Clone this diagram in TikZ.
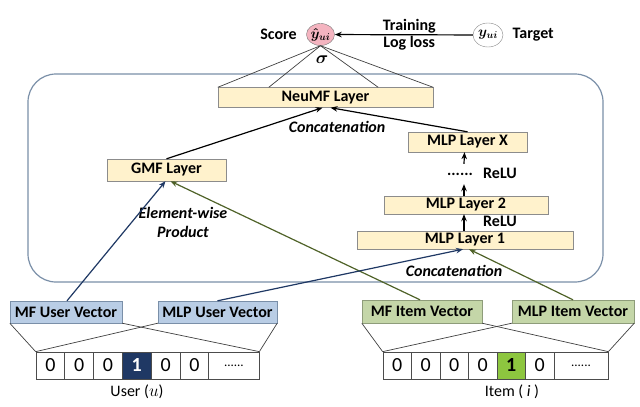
\documentclass[tikz,border=0pt]{standalone}
\usepackage{fontspec}
\setmainfont{Carlito}
\usetikzlibrary{positioning,arrows.meta,shapes.geometric}
\definecolor{layerfill}{HTML}{FFF2CC}
\definecolor{userfill}{HTML}{B9CDE5}
\definecolor{itemfill}{HTML}{C4D6A8}
\definecolor{navy}{HTML}{1F3864}
\definecolor{olive}{HTML}{4F6228}
\definecolor{frameblue}{HTML}{7A8FA8}
\definecolor{itemframe}{HTML}{8E9C7A}
\definecolor{scorepink}{HTML}{F4B4C0}
\definecolor{onegreen}{HTML}{8DC63F}
\newcommand\lbl{\fontsize{16}{19}\selectfont\bfseries}
\newcommand\lbli{\fontsize{16}{19}\selectfont\bfseries\itshape}
\newcommand\mth{\fontsize{14}{16}\selectfont\boldmath}

\tikzset{
  layer/.style={draw=black!45, fill=layerfill, inner sep=0pt, minimum height=20pt, font=\lbl},
  uservec/.style={draw=frameblue, fill=userfill, inner sep=0pt, minimum height=22pt, font=\lbl},
  itemvec/.style={draw=itemframe, fill=itemfill, inner sep=0pt, minimum height=23pt, font=\lbl},
  cell/.style={draw=black!70, line width=0.7pt, minimum width=28.8pt, minimum height=27pt,
    inner sep=0pt, font=\fontsize{20}{21}\selectfont},
  fan/.style={draw=black!75, line width=0.7pt},
  feed/.style={-{Stealth[length=7pt,width=5.5pt]}, line width=1.2pt},
}

\begin{document}
\begin{tikzpicture}[x=1pt, y=-1pt]
\useasboundingbox (0,0) rectangle (640,407);
% model frame
\draw[frameblue, line width=1.2pt, rounded corners=28pt] (28,74) rectangle (603,282);

% output
\node[ellipse, draw=black!55, fill=scorepink, minimum width=28pt, minimum height=22pt,
  inner sep=0pt, font=\mth] (yhat) at (320.5,34.5) {$\hat{y}_{ui}$};
\node[ellipse, draw=black!45, fill=white, minimum width=30pt, minimum height=24pt,
  inner sep=0pt, font=\mth] (yui) at (488,35) {$y_{ui}$};
\node[font=\lbl] (score) [left=6pt of yhat] {Score};
\node[font=\lbl] (target) [right=6pt of yui] {Target};
\path[feed] (yui) edge node[pos=0.46, above, font=\lbl, inner sep=1pt] {Training}
  node[pos=0.46, below, font=\lbl, inner sep=1pt] {Log loss} (yhat);
\node[font=\fontsize{16}{18}\selectfont\boldmath] (sig) at (322,60) {$\sigma$};

% layers
\node[layer, minimum width=215pt] (neumf) at (325.5,97.5) {NeuMF Layer};
\node[layer, minimum width=119pt, minimum height=22pt] (gmf) at (166.5,170) {GMF Layer};
\node[layer, minimum width=119pt] (mlpx) at (467.5,142) {MLP Layer X};
\node[layer, minimum width=164pt, minimum height=18pt] (mlp2) at (466,205) {MLP Layer 2};
\node[layer, minimum width=216pt, minimum height=18pt] (mlp1) at (465,240) {MLP Layer 1};
\node[font=\lbl, minimum height=20pt, inner sep=0pt] (dots) at (460,174) {......};
\node[font=\lbl] (relu2) at (500,173) {ReLU};
\node[font=\lbl] (relu1) at (500,221) {ReLU};
\node[font=\lbli] (concat1) at (337,127) {Concatenation};
\node[font=\lbli] (concat2) at (454,271) {Concatenation};
\node[font=\lbli, align=center] (prod) at (183,222) {Element-wise\\Product};

% fan into the score
\draw[fan] (neumf.north west) -- (yhat.south);
\draw[fan] ([xshift=51pt]neumf.north west) -- (yhat.south);
\draw[fan] ([xshift=-55pt]neumf.north east) -- (yhat.south);
\draw[fan] (neumf.north east) -- (yhat.south);

\path[feed] (gmf.north) edge ([xshift=-3pt]neumf.south);
\path[feed] (mlpx.north) edge ([xshift=5pt]neumf.south);
\path[feed] ([xshift=-1pt]mlp1.north) edge ([xshift=-2pt]mlp2.south);
\path[feed] ([xshift=-2pt]mlp2.north) edge ([xshift=4pt]dots.south);
\path[feed] ([xshift=4pt]dots.north) edge ([xshift=-3pt]mlpx.south);

% embeddings
\node[uservec, minimum width=112pt] (mfuser) at (66,312) {MF User Vector};
\node[uservec, minimum width=119pt] (mlpuser) at (217.5,312) {MLP User Vector};
\node[itemvec, minimum width=120pt] (mfitem) at (422,311.5) {MF Item Vector};
\node[itemvec, minimum width=122pt] (mlpitem) at (573,311.5) {MLP Item Vector};

\path[feed, navy] ([xshift=1pt]mfuser.north) edge ([xshift=-1pt]gmf.south);
\path[feed, olive] ([xshift=-2pt]mfitem.north) edge ([xshift=4pt]gmf.south);
\path[feed, navy] (mlpuser.north) edge ([xshift=-2pt]mlp1.south);
\path[feed, olive] (mlpitem.north) edge ([xshift=4pt]mlp1.south);

% one-hot inputs
\foreach \n/\c in {1/50.4, 2/79.2, 3/108, 5/165.6, 6/194.4}
  \node[cell] (u\n) at (\c,365.5) {0};
\node[cell, fill=navy, text=white, font=\fontsize{20}{21}\selectfont\bfseries] (u4) at (136.8,365.5) {1};
\node[cell, minimum width=50.2pt, font=\fontsize{13}{14}\selectfont] (u7) at (233.9,365.5) {......};
\foreach \n/\c in {1/397.25, 2/425.75, 3/454.25, 4/482.75, 6/539.75}
  \node[cell, minimum width=28.5pt] (i\n) at (\c,365.5) {0};
\node[cell, minimum width=28.5pt, fill=onegreen, font=\fontsize{20}{21}\selectfont\bfseries] (i5) at (511.25,365.5) {1};
\node[cell, minimum width=54pt, font=\fontsize{13}{14}\selectfont] (i7) at (581,365.5) {......};
\node[font=\fontsize{16}{19}\selectfont] (user) at (137,392) {User ($u$)};
\node[font=\fontsize{16}{19}\selectfont] (item) at (512,392) {Item ( \textit{i} )};

\draw[fan] (mfuser.south west) -- (u1.north west);
\draw[fan] (mfuser.south east) -- (u7.north east);
\draw[fan] (mlpuser.south west) -- (u1.north west);
\draw[fan] (mlpuser.south east) -- (u7.north east);
\draw[fan] (mfitem.south west) -- (i1.north west);
\draw[fan] (mfitem.south east) -- (i7.north east);
\draw[fan] (mlpitem.south west) -- (i1.north west);
\draw[fan] (mlpitem.south east) -- (i7.north east);
\end{tikzpicture}
\end{document}
